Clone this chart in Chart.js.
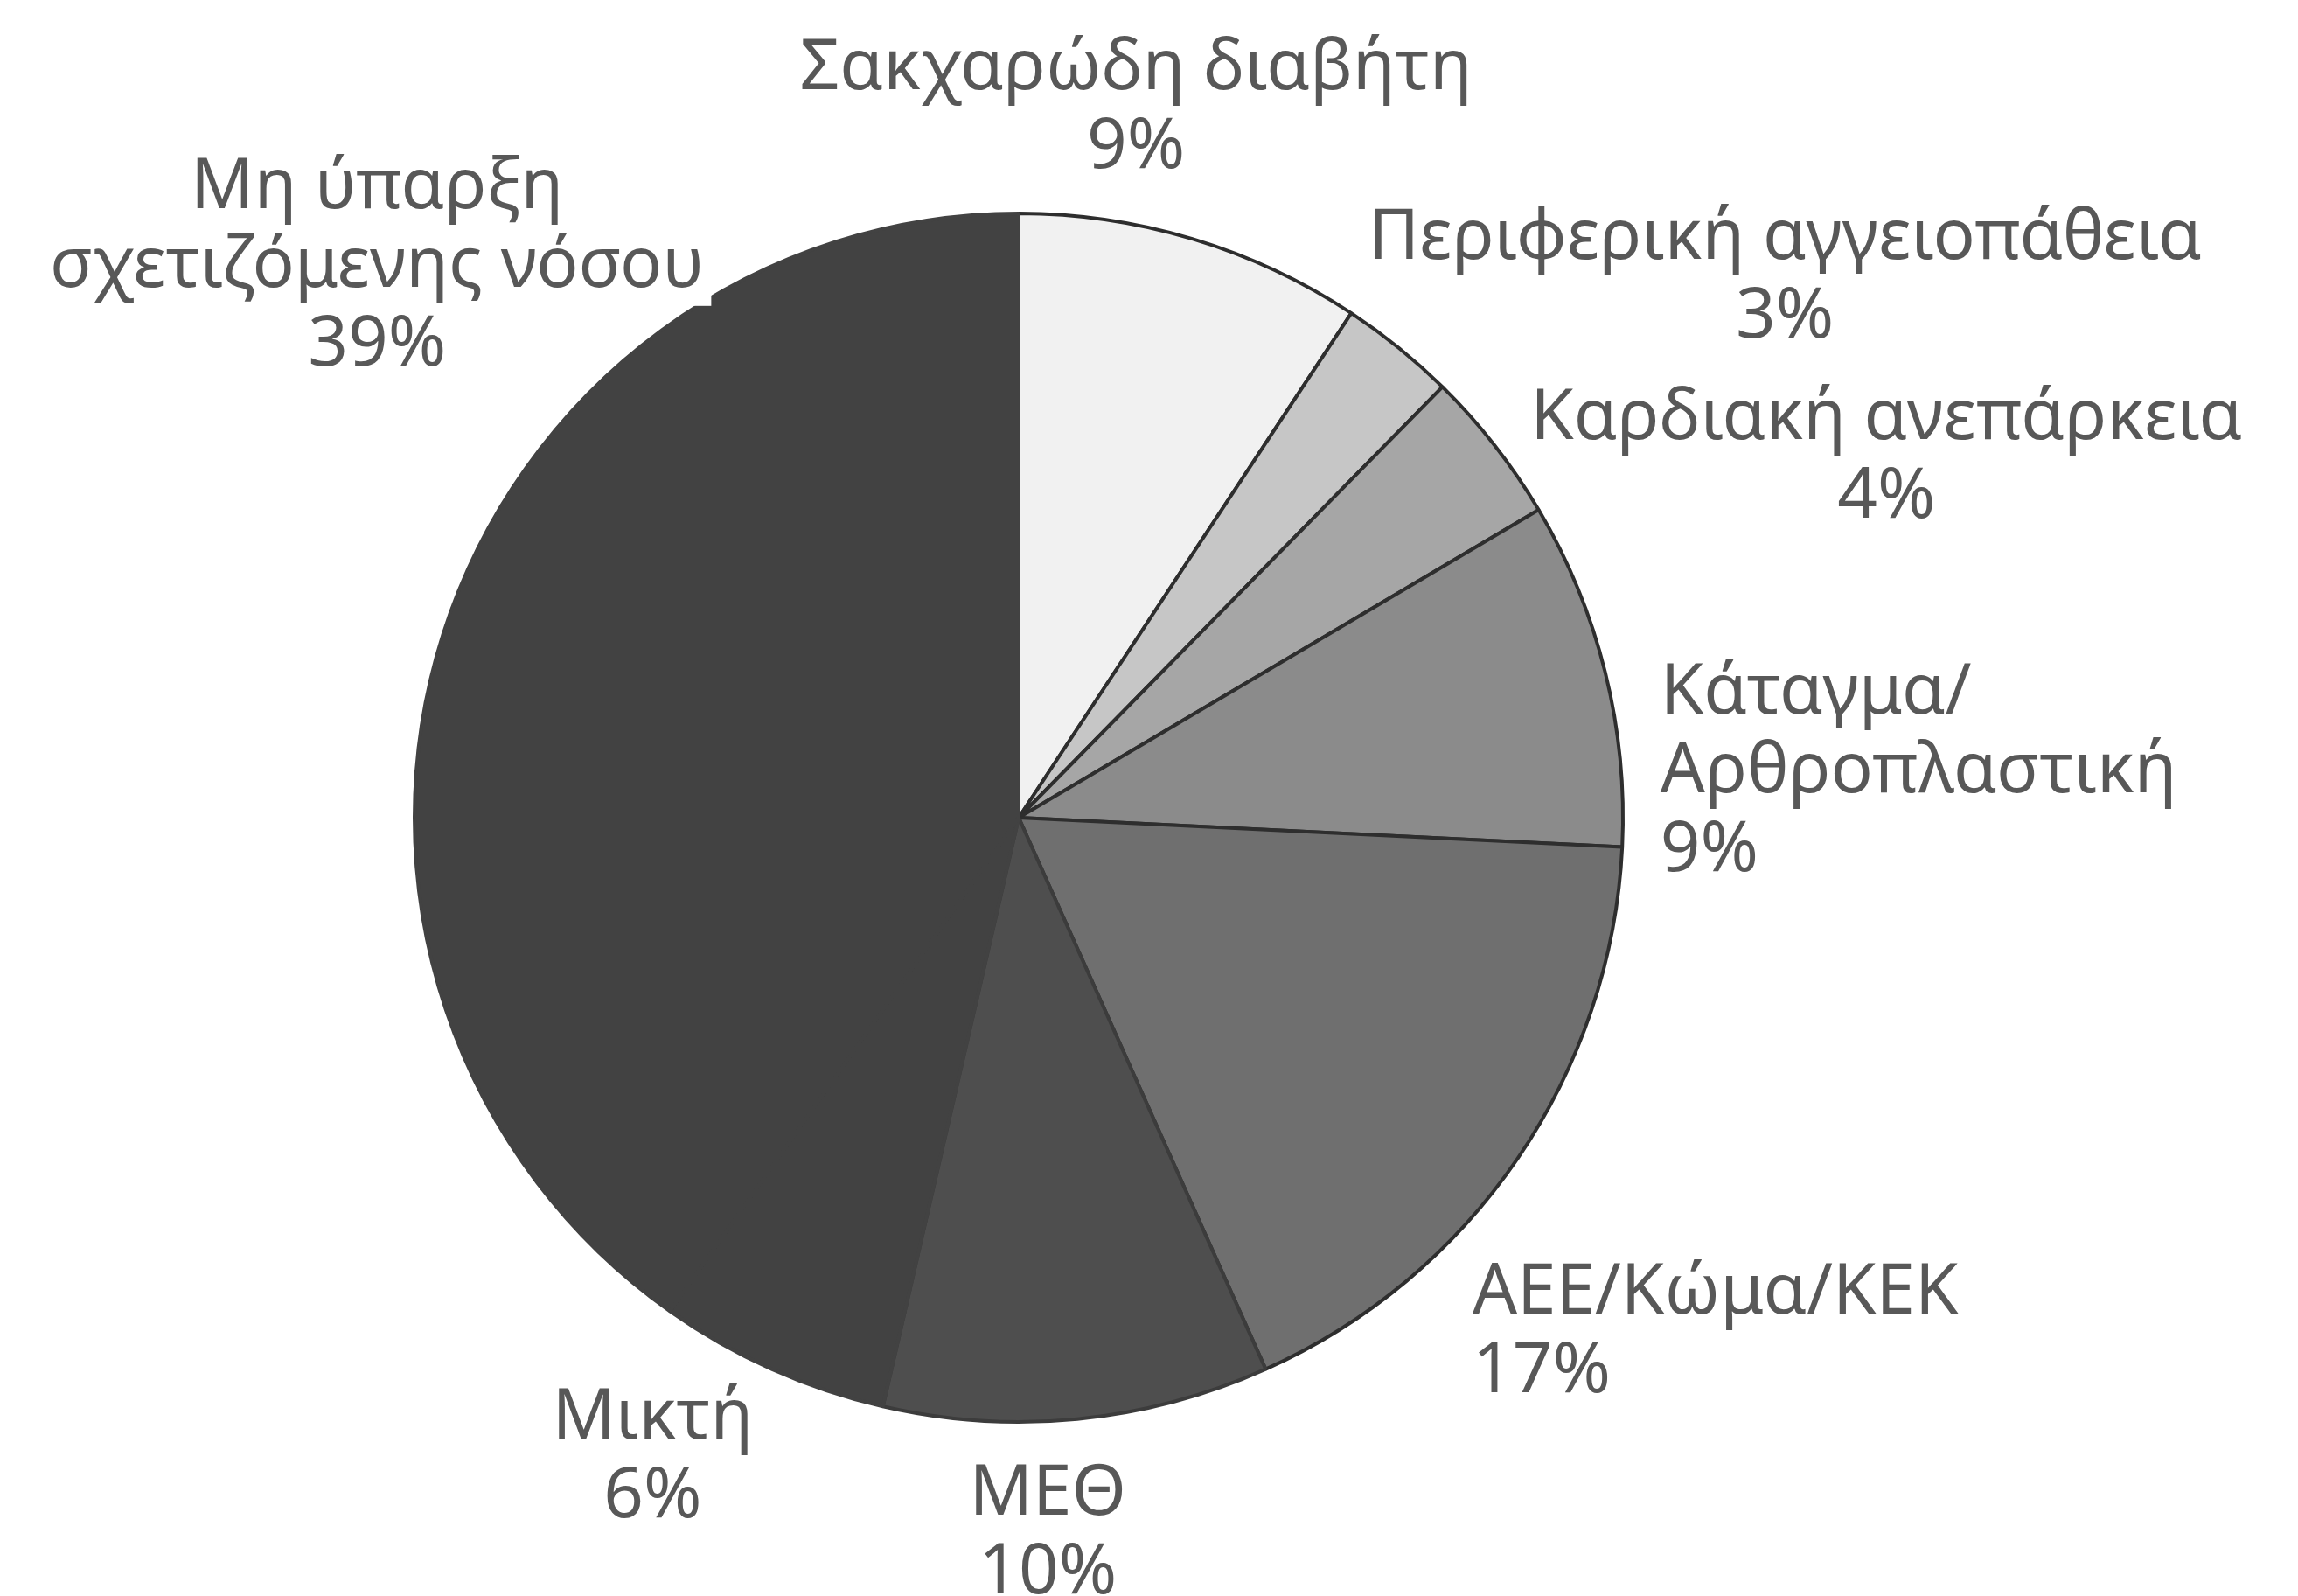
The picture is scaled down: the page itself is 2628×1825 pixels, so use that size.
<!DOCTYPE html>
<html>
<head>
<meta charset="utf-8">
<script src="https://cdn.jsdelivr.net/npm/chart.js@4.4.0/dist/chart.umd.min.js"></script>
<style>
  html, body { margin: 0; padding: 0; background: #ffffff; }
  #wrap { width: 2628px; height: 1825px; }
</style>
</head>
<body>
<div id="wrap"><canvas id="grafico" width="2628" height="1825"></canvas></div>
<script>
// categories, clockwise from 12 o'clock
const categorias = [
  "Σακχαρώδη διαβήτη",
  "Περιφερική αγγειοπάθεια",
  "Καρδιακή ανεπάρκεια",
  "Κάταγμα/\nΑρθροπλαστική",
  "ΑΕΕ/Κώμα/ΚΕΚ",
  "ΜΕΘ",
  "Μικτή",
  "Μη ύπαρξη\nσχετιζόμενης νόσου"
];
const porcentajes = [9, 3, 4, 9, 17, 10, 6, 39];

const colores = ["#f1f1f1", "#c6c6c6", "#a6a6a6", "#8b8b8b", "#6f6f6f", "#4e4e4e", "#424242", "#424242"];
const bordes = ["#2e2e2e", "#2e2e2e", "#2e2e2e", "#2e2e2e", "#2e2e2e", "#3c3c3c", "#424242", "#424242"];

// label anchor relative to pie centre, in units of the radius
const etiquetaDx = [0.194, 1.268, 1.436, 1.062, 0.751, 0.048, -0.606, -1.062];
const etiquetaDy = [-1.174, -0.892, -0.595, -0.075, 0.852, 1.185, 1.060, -0.912];
const etiquetaAlign = ["center", "center", "center", "left", "left", "center", "center", "center"];
const etiquetaFondo = [false, false, false, false, false, false, false, true];

const FUENTE = '80px "Noto Sans"';
const ALTO_LINEA = 90;

const etiquetasPlugin = {
  id: "etiquetas",
  afterDatasetsDraw(chart) {
    const ctx = chart.ctx;
    const meta = chart.getDatasetMeta(0);
    const arco = meta.data[0];
    const cx = arco.x, cy = arco.y, r = arco.outerRadius;
    ctx.save();
    ctx.font = FUENTE;
    ctx.textBaseline = "middle";
    categorias.forEach(function (cat, i) {
      const lineas = cat.split("\n").concat([porcentajes[i] + "%"]);
      const x = cx + etiquetaDx[i] * r;
      const y0 = cy + etiquetaDy[i] * r - (lineas.length - 1) * ALTO_LINEA / 2;
      ctx.textAlign = etiquetaAlign[i];
      lineas.forEach(function (l, j) {
        const y = y0 + j * ALTO_LINEA;
        if (etiquetaFondo[i]) {
          const w = ctx.measureText(l).width + 16;
          const left = etiquetaAlign[i] === "center" ? x - w / 2 : x - 8;
          ctx.fillStyle = "#ffffff";
          ctx.fillRect(left, y - 45, w, 90);
        }
        ctx.fillStyle = "#585858";
        ctx.fillText(l, x, y);
      });
    });
    ctx.restore();
  }
};

const context = document.getElementById("grafico");
const grafico = new Chart(context, {
  type: "pie",
  data: {
    labels: categorias,
    datasets: [{
      data: porcentajes,
      backgroundColor: colores,
      borderColor: bordes,
      borderWidth: 4
    }]
  },
  options: {
    responsive: false,
    animation: false,
    layout: { padding: { left: 472, top: 242, right: 770, bottom: 197 } },
    plugins: {
      legend: { display: false },
      tooltip: { enabled: false }
    }
  },
  plugins: [etiquetasPlugin]
});
</script>
</body>
</html>
